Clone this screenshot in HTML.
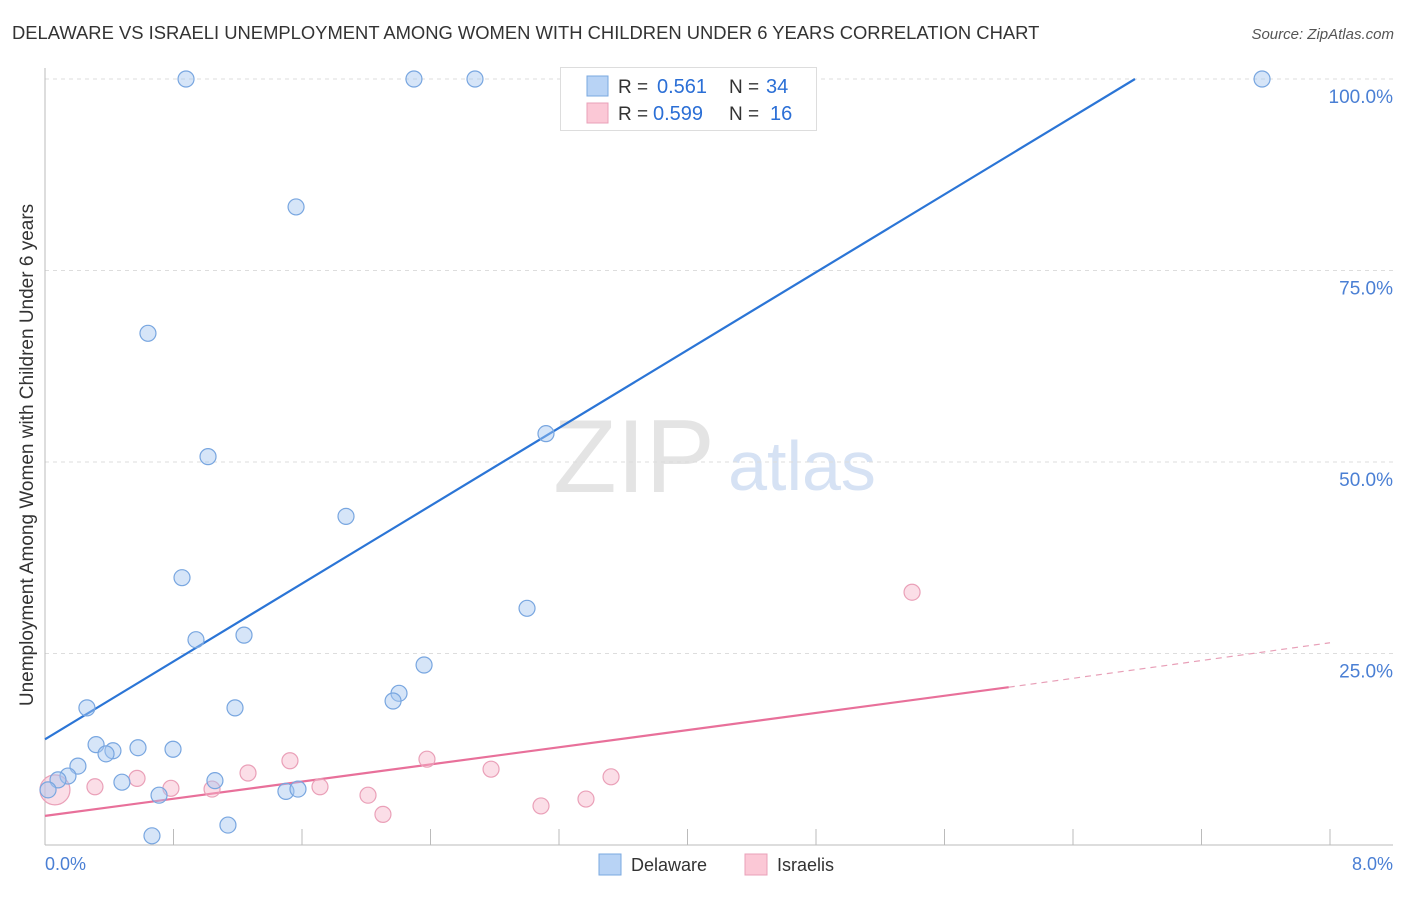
<!DOCTYPE html>
<html><head><meta charset="utf-8"><style>
body{margin:0;background:#fff;font-family:"Liberation Sans",sans-serif;}
svg text{font-family:"Liberation Sans",sans-serif;}
</style></head><body>
<svg id="chart" width="1406" height="892" xmlns="http://www.w3.org/2000/svg">
<text x="12" y="39" font-size="18.4" fill="#333">DELAWARE VS ISRAELI UNEMPLOYMENT AMONG WOMEN WITH CHILDREN UNDER 6 YEARS CORRELATION CHART</text>
<text x="1394" y="39" font-size="15" fill="#555" font-style="italic" text-anchor="end">Source: ZipAtlas.com</text>
<text x="634" y="492" font-size="104" fill="#e4e4e4" font-family="Liberation Serif" text-anchor="middle">ZIP</text>
<text x="802" y="490" font-size="70" fill="#d6e2f4" text-anchor="middle">atlas</text>
<g id="grid"></g><g id="axes"></g><g id="lines"></g><g id="pts"></g>
<text x="33" y="455" font-size="19" fill="#333" text-anchor="middle" transform="rotate(-90 33 455)">Unemployment Among Women with Children Under 6 years</text>
<text x="45" y="870" font-size="18" fill="#4a7fd4">0.0%</text>
<text x="1393" y="870" font-size="18" fill="#4a7fd4" text-anchor="end">8.0%</text>
<g>
<rect x="560.5" y="67.5" width="256" height="63" fill="#fff" stroke="#ddd"/>
<rect x="587" y="76" width="21" height="20" fill="#b8d3f5" stroke="#7aa8e0"/>
<rect x="587" y="103" width="21" height="20" fill="#fbc8d6" stroke="#eaa0b8"/>
<text x="618" y="93" font-size="19" fill="#333">R =</text>
<text x="657" y="93" font-size="20" fill="#2b6fd6">0.561</text>
<text x="729" y="93" font-size="19" fill="#333">N =</text>
<text x="766" y="93" font-size="20" fill="#2b6fd6">34</text>
<text x="618" y="120" font-size="19" fill="#333">R =</text>
<text x="653" y="120" font-size="20" fill="#2b6fd6">0.599</text>
<text x="729" y="120" font-size="19" fill="#333">N =</text>
<text x="770" y="120" font-size="20" fill="#2b6fd6">16</text>
</g>
<g><rect x="599" y="854" width="22" height="21" fill="#b8d3f5" stroke="#7aa8e0"/><text x="631" y="871" font-size="18" fill="#333">Delaware</text></g>
<g><rect x="745" y="854" width="22" height="21" fill="#fbc8d6" stroke="#eaa0b8"/><text x="777" y="871" font-size="18" fill="#333">Israelis</text></g>
</svg>
<script>
const yTicks=[25,50,75,100];
const yTickLabels=["25.0%","50.0%","75.0%","100.0%"];
const blueX=[0.878,2.297,2.677,7.577,1.563,0.641,3.119,1.015,1.874,0.853,3.001,0.940,1.239,2.360,2.204,2.167,0.261,1.183,0.318,0.423,0.380,0.579,0.797,0.205,0.143,0.081,0.479,1.058,0.019,1.500,1.575,0.710,1.139,0.666];
const blueY=[100,100,100,100,83.3,66.8,53.7,50.7,42.9,34.9,30.9,26.8,27.4,23.5,19.8,18.8,17.9,17.9,13.1,12.3,11.9,12.7,12.5,10.3,9.0,8.5,8.2,8.4,7.2,7.0,7.3,6.5,2.6,1.2];
const pinkX=[0.062,0.311,0.573,0.784,1.040,1.264,1.525,1.712,2.011,2.104,2.378,2.777,3.088,3.368,3.524,5.398];
const pinkY=[7.2,7.6,8.7,7.4,7.3,9.4,11.0,7.6,6.5,4.0,11.2,9.9,5.1,6.0,8.9,33.0];
const blueLine=[[0,13.8],[6.786,100]];
const pinkLine=[[0,3.8],[6.0,20.6]];
const pinkDash=[[6.0,20.6],[8,26.4]];
const X=v=>45+v/8*1285, Y=v=>845-v/100*766;
const NS="http://www.w3.org/2000/svg";
function mk(p,t,a){const e=document.createElementNS(NS,t);for(const k in a)e.setAttribute(k,a[k]);document.getElementById(p).appendChild(e);return e;}
yTicks.forEach((t,i)=>{
 const l=mk('grid','line',{x1:45,x2:1393,y1:Y(t),y2:Y(t),stroke:'#ddd','stroke-dasharray':'4,4'});
 
 
 const tx=mk('grid','text',{x:1393,y:Y(t)+24,'font-size':19,fill:'#4a7fd4','text-anchor':'end'});
 tx.textContent=yTickLabels[i];
 
 
});
const ax=mk('axes','line',{x1:45,x2:45,y1:68,y2:845,stroke:'#bbb'});


const bx=mk('axes','line',{x1:45,x2:1393,y1:845,y2:845,stroke:'#bbb'});


for(let i=1;i<=10;i++){const t=mk('axes','line',{x1:X(i*0.8),x2:X(i*0.8),y1:829,y2:845,stroke:'#bbb'});
 
 }
function ln(d,c,w,dash,name){const l=mk('lines','line',{x1:X(d[0][0]),y1:Y(d[0][1]),x2:X(d[1][0]),y2:Y(d[1][1]),stroke:c,'stroke-width':w});if(dash)l.setAttribute('stroke-dasharray',dash);
 
 }
ln(blueLine,'#2b75d6',2.2,null,'delaware-trend-line');
ln(pinkLine,'#e8709a',2.2,null,'israelis-trend-line');
ln(pinkDash,'#e8a0b8',1.2,'6,5','israelis-trend-extension');
pinkX.forEach((x,i)=>{const c=mk('pts','circle',{cx:X(x),cy:Y(pinkY[i]),r:i===0?15:8,fill:'rgba(247,182,202,0.45)',stroke:'#eaa0b8','stroke-width':1.2});
 
 });
blueX.forEach((x,i)=>{const c=mk('pts','circle',{cx:X(x),cy:Y(blueY[i]),r:8,fill:'rgba(164,198,240,0.45)',stroke:'#78a6e0','stroke-width':1.2});
 
 });
</script>
</body></html>
